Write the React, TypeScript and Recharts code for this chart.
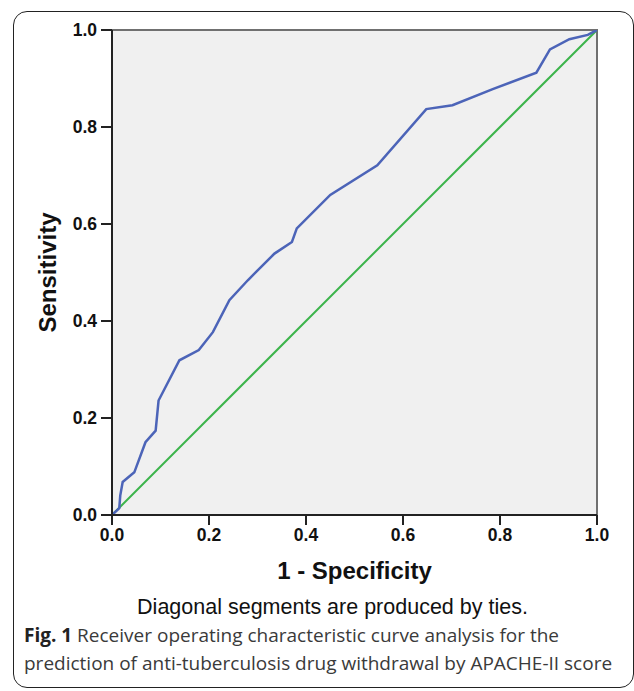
import { LineChart, Line, XAxis, YAxis, ReferenceArea } from 'recharts';

// ROC curve (1 - specificity vs sensitivity)
const falsePositiveRate = [
  0, 0.015, 0.017, 0.022, 0.046, 0.069, 0.09, 0.096, 0.139, 0.179, 0.208, 0.242, 0.28,
  0.335, 0.371, 0.381, 0.45, 0.547, 0.648, 0.702, 0.785, 0.875, 0.903, 0.943, 0.981, 1,
];
const sensitivity = [
  0, 0.014, 0.04, 0.068, 0.088, 0.15, 0.174, 0.236, 0.319, 0.34, 0.377, 0.443, 0.484,
  0.539, 0.563, 0.591, 0.66, 0.721, 0.837, 0.845, 0.878, 0.912, 0.96, 0.981, 0.99, 1,
];

// reference (chance) line
const chanceX = [0, 1];
const chanceY = [0, 1];

const axisTicks = [0, 0.2, 0.4, 0.6, 0.8, 1.0];

const rocData = falsePositiveRate.map((x, i) => ({ x, y: sensitivity[i] }));
const chanceData = chanceX.map((x, i) => ({ x, y: chanceY[i] }));

const chartFont = '"Liberation Sans", Arial, sans-serif';
const tickStyle = { fontSize: 17.5, fontWeight: 700, fill: '#111', fontFamily: chartFont };

export default function App() {
  return (
    <div
      style={{
        position: 'absolute',
        left: 0,
        top: 0,
        width: 634,
        height: 691,
        background: '#fff',
        overflow: 'hidden',
      }}
    >
      {/* rounded frame around figure + caption */}
      <div
        style={{
          position: 'absolute',
          left: 13,
          top: 11,
          width: 621,
          height: 677,
          border: '1.5px solid #222',
          borderRadius: 14,
          boxSizing: 'border-box',
        }}
      />

      <div style={{ position: 'absolute', left: 0, top: 0 }}>
        <LineChart width={634} height={600} margin={{ top: 30, right: 37, left: 0, bottom: 10 }}>
          <ReferenceArea
            x1={0}
            x2={1}
            y1={0}
            y2={1}
            fill="#f0f0f0"
            fillOpacity={1}
            stroke="#707070"
            strokeWidth={2}
          />
          <XAxis
            type="number"
            dataKey="x"
            domain={[0, 1]}
            ticks={axisTicks}
            tickFormatter={(v: number) => v.toFixed(1)}
            height={75}
            tickSize={10}
            tickMargin={4}
            axisLine={{ stroke: '#222', strokeWidth: 2 }}
            tickLine={{ stroke: '#222', strokeWidth: 2 }}
            tick={tickStyle}
            allowDataOverflow
            label={{
              value: '1 - Specificity',
              position: 'insideBottom',
              offset: 11,
              style: { fontSize: 24, fontWeight: 700, fill: '#111', fontFamily: chartFont },
            }}
          />
          <YAxis
            type="number"
            dataKey="y"
            domain={[0, 1]}
            ticks={axisTicks}
            tickFormatter={(v: number) => v.toFixed(1)}
            width={112}
            tickSize={11}
            tickMargin={4}
            axisLine={{ stroke: '#222', strokeWidth: 2 }}
            tickLine={{ stroke: '#222', strokeWidth: 2 }}
            tick={tickStyle}
            allowDataOverflow
            label={{
              value: 'Sensitivity',
              angle: -90,
              position: 'insideLeft',
              offset: 47,
              style: {
                textAnchor: 'middle',
                fontSize: 24,
                fontWeight: 700,
                fill: '#111',
                fontFamily: chartFont,
              },
            }}
          />
          <Line
            data={chanceData}
            dataKey="y"
            type="linear"
            stroke="#3cb44b"
            strokeWidth={2}
            dot={false}
            isAnimationActive={false}
          />
          <Line
            data={rocData}
            dataKey="y"
            type="linear"
            stroke="#4c64b8"
            strokeWidth={2.5}
            dot={false}
            isAnimationActive={false}
          />
        </LineChart>
      </div>

      <div
        style={{
          position: 'absolute',
          left: 0,
          width: 665,
          top: 594,
          textAlign: 'center',
          fontFamily: chartFont,
          fontSize: 21.5,
          color: '#111',
          lineHeight: '26px',
        }}
      >
        Diagonal segments are produced by ties.
      </div>

      <div
        style={{
          position: 'absolute',
          left: 24,
          top: 621,
          width: 605,
          fontFamily: '"Open Sans", sans-serif',
          fontSize: 19,
          color: '#3a3a3a',
          lineHeight: '28px',
          whiteSpace: 'nowrap',
        }}
      >
        <b style={{ fontWeight: 700, color: '#222' }}>Fig. 1</b> Receiver operating characteristic curve analysis for the
        <br />
        prediction of anti-tuberculosis drug withdrawal by APACHE-II score
      </div>
    </div>
  );
}
